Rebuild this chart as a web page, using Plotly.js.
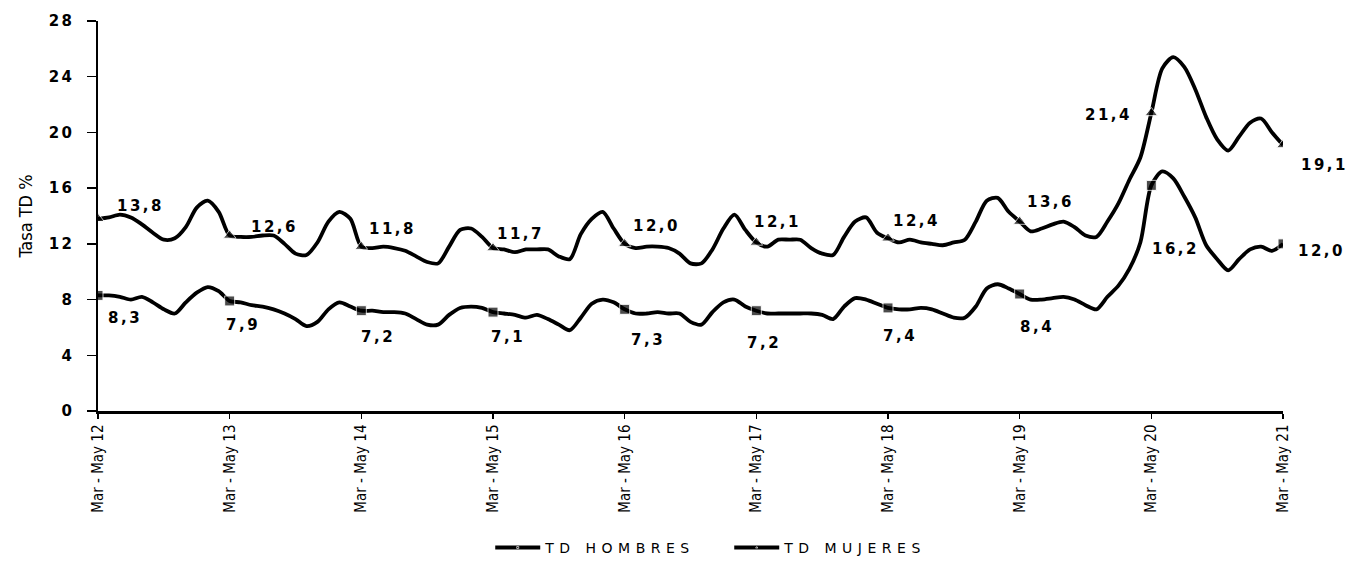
<!DOCTYPE html>
<html>
<head>
<meta charset="utf-8">
<script src="https://cdn.plot.ly/plotly-3.0.1.min.js"></script>
<style>
html,body{margin:0;padding:0;background:#fff;}
#chart{width:1349px;height:566px;}
.annotation-text{letter-spacing:2.5px;}
.ytick text{letter-spacing:2.5px;}
.legendtext{letter-spacing:5.5px;}
</style>
</head>
<body>
<div id="chart"></div>
<script>
// Moving-quarter names (Spanish) and year suffixes
const quarterNames = ["Mar - May","Abr - Jun","May - Jul","Jun - Ago","Jul - Sep","Ago - Oct",
                      "Sep - Nov","Oct - Dic","Nov - Ene","Dic - Feb","Ene - Mar","Feb - Abr"];
const startYears = [12,13,14,15,16,17,18,19,20];
const lastLabel = "Mar - May 21";

// Categories: every moving quarter from Mar-May 12 to Mar-May 21
const categories = [];
startYears.forEach(y => {
  quarterNames.forEach((q, j) => {
    const yy = j < 8 ? y : y + 1;
    categories.push(q + " " + String(yy).padStart(2, "0"));
  });
});
categories.push(lastLabel);

// Tick labels shown on the axis
const tickLabels = ["Mar - May 12","Mar - May 13","Mar - May 14","Mar - May 15","Mar - May 16",
                    "Mar - May 17","Mar - May 18","Mar - May 19","Mar - May 20","Mar - May 21"];

// TD HOMBRES (men), %
const tdHombres = [
  8.3, 8.3, 8.2, 8.0, 8.2, 7.8, 7.3, 7.0, 7.8, 8.5, 8.9, 8.6,
  7.9, 7.8, 7.6, 7.5, 7.3, 7.0, 6.6, 6.1, 6.4, 7.3, 7.8, 7.5,
  7.2, 7.2, 7.1, 7.1, 7.0, 6.6, 6.2, 6.2, 6.9, 7.4, 7.5, 7.4,
  7.1, 7.0, 6.9, 6.7, 6.9, 6.6, 6.2, 5.8, 6.7, 7.7, 8.0, 7.8,
  7.3, 7.0, 7.0, 7.1, 7.0, 7.0, 6.4, 6.2, 7.1, 7.8, 8.0, 7.5,
  7.2, 7.0, 7.0, 7.0, 7.0, 7.0, 6.9, 6.6, 7.5, 8.1, 8.0, 7.7,
  7.4, 7.3, 7.3, 7.4, 7.3, 7.0, 6.7, 6.7, 7.5, 8.8, 9.1, 8.8,
  8.4, 8.0, 8.0, 8.1, 8.2, 8.0, 7.6, 7.3, 8.2, 9.0, 10.2, 12.1,
  16.2, 17.2, 16.7, 15.4, 13.9, 11.9, 10.9, 10.1, 10.9, 11.6, 11.8, 11.5,
  12.0
];

// TD MUJERES (women), %
const tdMujeres = [
  13.8, 13.9, 14.1, 13.9, 13.4, 12.8, 12.3, 12.4, 13.2, 14.6, 15.1, 14.3,
  12.6, 12.5, 12.5, 12.6, 12.6, 12.0, 11.3, 11.2, 12.1, 13.6, 14.3, 13.8,
  11.8, 11.7, 11.8, 11.7, 11.5, 11.1, 10.7, 10.6, 11.8, 13.0, 13.1, 12.5,
  11.7, 11.6, 11.4, 11.6, 11.6, 11.6, 11.1, 10.9, 12.7, 13.8, 14.3, 13.1,
  12.0, 11.7, 11.8, 11.8, 11.7, 11.3, 10.6, 10.6, 11.6, 13.1, 14.1, 13.0,
  12.1, 11.8, 12.3, 12.3, 12.3, 11.7, 11.3, 11.2, 12.5, 13.6, 13.9, 12.8,
  12.4, 12.1, 12.3, 12.1, 12.0, 11.9, 12.1, 12.3, 13.6, 15.1, 15.3, 14.3,
  13.6, 12.9, 13.1, 13.4, 13.6, 13.2, 12.6, 12.5, 13.6, 14.9, 16.6, 18.2,
  21.4, 24.6, 25.4, 24.7, 23.1, 21.1, 19.5, 18.7, 19.7, 20.7, 21.0, 20.0,
  19.1
];

// Label offsets in pixels (style only): [xshift, yshift]
const offHombres = [[27,-23],[13,-24],[17,-26],[15,-25],[23,-31],[8,-32],[12,-28],[17,-33],[24,-64],[38,-7]];
const offMujeres = [[42,13],[45,9],[31,18],[27,14],[32,18],[21,20],[28,17],[31,20],[-43,-2],[41,-20]];

const fmt = v => v.toFixed(1).replace(".", ",");
const isYear = (_, i) => i % 12 === 0;

const traces = [
  {
    name: "TD HOMBRES", type: "scatter", mode: "lines+markers",
    x: categories, y: tdHombres,
    line: {color: "#000", width: 3.8, shape: "spline", smoothing: 0.8},
    marker: {symbol: "square", color: "#000", size: tdHombres.map((v, i) => isYear(v, i) ? 10 : 0)},
    hoverinfo: "x+y"
  },
  {
    name: "TD MUJERES", type: "scatter", mode: "lines+markers",
    x: categories, y: tdMujeres,
    line: {color: "#000", width: 3.8, shape: "spline", smoothing: 0.8},
    marker: {symbol: "triangle-up", color: "#000", size: tdMujeres.map((v, i) => isYear(v, i) ? 11 : 0)},
    hoverinfo: "x+y"
  }
];

const labelFont = {family: "DejaVu Sans, Arial, sans-serif", size: 15, color: "#000", weight: "bold"};
const annotations = [];
let k = 0;
categories.forEach((c, i) => {
  if (i % 12 !== 0) return;
  annotations.push({x: c, y: tdHombres[i], xref: "x", yref: "y", text: fmt(tdHombres[i]),
    showarrow: false, xshift: offHombres[k][0], yshift: offHombres[k][1], font: labelFont});
  annotations.push({x: c, y: tdMujeres[i], xref: "x", yref: "y", text: fmt(tdMujeres[i]),
    showarrow: false, xshift: offMujeres[k][0], yshift: offMujeres[k][1], font: labelFont});
  k++;
});

const layout = {
  width: 1349, height: 566,
  margin: {l: 98, r: 66, t: 21, b: 155, autoexpand: false},
  paper_bgcolor: "#fff", plot_bgcolor: "#fff",
  showlegend: true,
  legend: {
    orientation: "h", x: 0.331, xanchor: "left",
    yref: "container", y: 0.032, yanchor: "middle",
    font: {family: "DejaVu Sans, Arial, sans-serif", size: 14, color: "#000"},
    itemwidth: 45,
    entrywidth: 179, entrywidthmode: "pixels", traceorder: "normal"
  },
  xaxis: {
    type: "category", range: [0, 108],
    tickmode: "array", tickvals: tickLabels, ticktext: tickLabels,
    tickangle: -90, ticks: "outside", ticklen: 5, tickwidth: 1.5, tickcolor: "#000",
    tickfont: {family: "Liberation Sans Narrow, Arial Narrow, DejaVu Sans Condensed, sans-serif", size: 15, color: "#000"},
    showline: true, linecolor: "#000", linewidth: 2.5,
    showgrid: false, zeroline: false, fixedrange: true, automargin: false
  },
  yaxis: {
    range: [0, 28], tickmode: "array", tickvals: [0,4,8,12,16,20,24,28],
    ticks: "outside", ticklen: 9, tickwidth: 1.5, tickcolor: "#000",
    ticklabelstandoff: 9,
    tickfont: {family: "DejaVu Sans, Arial, sans-serif", size: 15, color: "#000", weight: "bold"},
    showline: true, linecolor: "#000", linewidth: 2.5,
    showgrid: false, zeroline: false, fixedrange: true, automargin: false,
    title: {text: "Tasa TD %", standoff: 12,
      font: {family: "Liberation Sans Narrow, Arial Narrow, DejaVu Sans Condensed, sans-serif", size: 18, color: "#000"}}
  },
  annotations: annotations
};

Plotly.newPlot("chart", traces, layout, {staticPlot: true, displayModeBar: false});
</script>
</body>
</html>
